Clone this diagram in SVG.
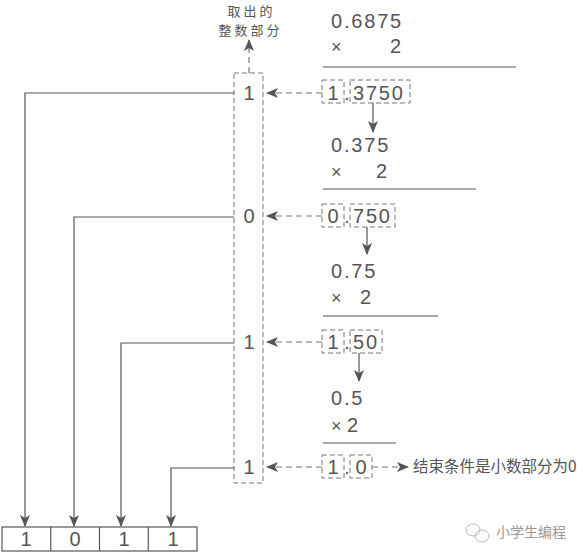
<svg xmlns="http://www.w3.org/2000/svg" width="583" height="552" viewBox="0 0 583 552">
<style>
.num{font-family:"Liberation Sans",Arial,sans-serif;font-size:20px;fill:#555;letter-spacing:1.8px}
.dig{font-family:"Liberation Sans",Arial,sans-serif;font-size:20px;fill:#555;text-anchor:middle}
.x{font-family:"Liberation Sans",Arial,sans-serif;font-size:18px;fill:#555}
.cn{font-family:"Noto Sans CJK SC","Noto Sans",sans-serif;font-size:13px;fill:#555}
.end{font-family:"Noto Sans CJK SC","Noto Sans",sans-serif;font-size:15.5px;fill:#555}
.dot{fill:#666}
.solid{fill:none;stroke:#555;stroke-width:1.2}
.dash{fill:none;stroke:#777;stroke-width:1.2;stroke-dasharray:6,4}
.dbox{fill:none;stroke:#777;stroke-width:1;stroke-dasharray:5,3}
.rule{stroke:#555;stroke-width:1.2}
</style>
<defs>
<marker id="ah" viewBox="0 0 12 10" refX="11" refY="5" markerWidth="12" markerHeight="10" markerUnits="userSpaceOnUse" orient="auto">
<path d="M0,0 L12,5 L0,10 L3,5 z" fill="#555"/>
</marker>
</defs>
<rect width="583" height="552" fill="#fff"/>

<g id="label-top">
<text class="cn" x="251.5" y="16" text-anchor="middle" letter-spacing="3">取出的</text>
<text class="cn" x="250.5" y="35" text-anchor="middle" letter-spacing="3">整数部分</text>
</g>

<g id="column">
<rect class="dbox" x="234" y="73" width="29" height="410"/>
<text class="dig" x="249" y="100">1</text>
<text class="dig" x="249" y="223">0</text>
<text class="dig" x="249" y="349">1</text>
<text class="dig" x="249" y="474">1</text>
</g>

<g id="calc1">
<text class="num" x="331" y="28">0.6875</text>
<text class="x" x="331" y="53">×</text>
<text class="num" x="403" y="53" text-anchor="end" letter-spacing="0">2</text>
<line class="rule" x1="323" y1="67" x2="516" y2="67"/>
</g>
<g id="res1">
<rect class="dbox" x="322" y="80" width="22" height="23"/>
<text class="dig" x="333" y="100">1</text>
<circle class="dot" cx="347" cy="99" r="1.2"/>
<rect class="dbox" x="350" y="80" width="60" height="23"/>
<text class="num" x="353" y="100">3750</text>
</g>

<g id="calc2">
<text class="num" x="331" y="152">0.375</text>
<text class="x" x="331" y="178">×</text>
<text class="num" x="389" y="178" text-anchor="end" letter-spacing="0">2</text>
<line class="rule" x1="323" y1="189" x2="476" y2="189"/>
</g>
<g id="res2">
<rect class="dbox" x="322" y="204" width="22" height="23"/>
<text class="dig" x="333" y="223">0</text>
<circle class="dot" cx="347" cy="222" r="1.2"/>
<rect class="dbox" x="350" y="204" width="45" height="23"/>
<text class="num" x="353" y="223">750</text>
</g>

<g id="calc3">
<text class="num" x="331" y="278">0.75</text>
<text class="x" x="331" y="304">×</text>
<text class="num" x="373" y="304" text-anchor="end" letter-spacing="0">2</text>
<line class="rule" x1="323" y1="316" x2="438" y2="316"/>
</g>
<g id="res3">
<rect class="dbox" x="322" y="330" width="22" height="23"/>
<text class="dig" x="333" y="349">1</text>
<circle class="dot" cx="347" cy="348" r="1.2"/>
<rect class="dbox" x="350" y="330" width="32" height="23"/>
<text class="num" x="353" y="349">50</text>
</g>

<g id="calc4">
<text class="num" x="331" y="405">0.5</text>
<text class="x" x="331" y="432">×</text>
<text class="num" x="360" y="432" text-anchor="end" letter-spacing="0">2</text>
<line class="rule" x1="323" y1="443" x2="396" y2="443"/>
</g>
<g id="res4">
<rect class="dbox" x="322" y="455" width="22" height="23"/>
<text class="dig" x="333" y="474">1</text>
<circle class="dot" cx="347" cy="473" r="1.2"/>
<rect class="dbox" x="350" y="455" width="22" height="23"/>
<text class="dig" x="361" y="474">0</text>
</g>

<g id="end-label">
<text class="end" x="413" y="472">结束条件是小数部分为0</text>
</g>

<g id="result">
<rect x="2" y="527" width="195" height="24" fill="none" stroke="#555" stroke-width="1.2"/>
<line class="rule" x1="50.75" y1="527" x2="50.75" y2="551"/>
<line class="rule" x1="99.5" y1="527" x2="99.5" y2="551"/>
<line class="rule" x1="148.25" y1="527" x2="148.25" y2="551"/>
<text class="dig" x="26" y="546">1</text>
<text class="dig" x="75" y="546">0</text>
<text class="dig" x="124" y="546">1</text>
<text class="dig" x="173" y="546">1</text>
</g>

<g id="watermark" fill="none" stroke="#bbb" stroke-width="1">
<ellipse cx="473" cy="530" rx="7" ry="6"/>
<ellipse cx="482" cy="536" rx="7" ry="6"/>
<text x="496" y="537" font-family="'Noto Sans CJK SC',sans-serif" font-size="14" fill="#999" stroke="none">小学生编程</text>
</g>

<g id="connectors">
<path class="dash" d="M249,73 V40" marker-end="url(#ah)"/>
<path class="dash" d="M322,93 H267" marker-end="url(#ah)"/>
<path class="dash" d="M322,216 H267" marker-end="url(#ah)"/>
<path class="dash" d="M322,342 H267" marker-end="url(#ah)"/>
<path class="dash" d="M322,467 H267" marker-end="url(#ah)"/>
<path class="dash" d="M372,467 H408" marker-end="url(#ah)"/>
<path class="solid" d="M373,103 V132" marker-end="url(#ah)"/>
<path class="solid" d="M367,227 V254" marker-end="url(#ah)"/>
<path class="solid" d="M359,353 V381" marker-end="url(#ah)"/>
<path class="solid" d="M234,93 H25 V526" marker-end="url(#ah)"/>
<path class="solid" d="M234,217 H74 V526" marker-end="url(#ah)"/>
<path class="solid" d="M234,343 H121 V526" marker-end="url(#ah)"/>
<path class="solid" d="M234,468 H171 V526" marker-end="url(#ah)"/>
</g>
</svg>
